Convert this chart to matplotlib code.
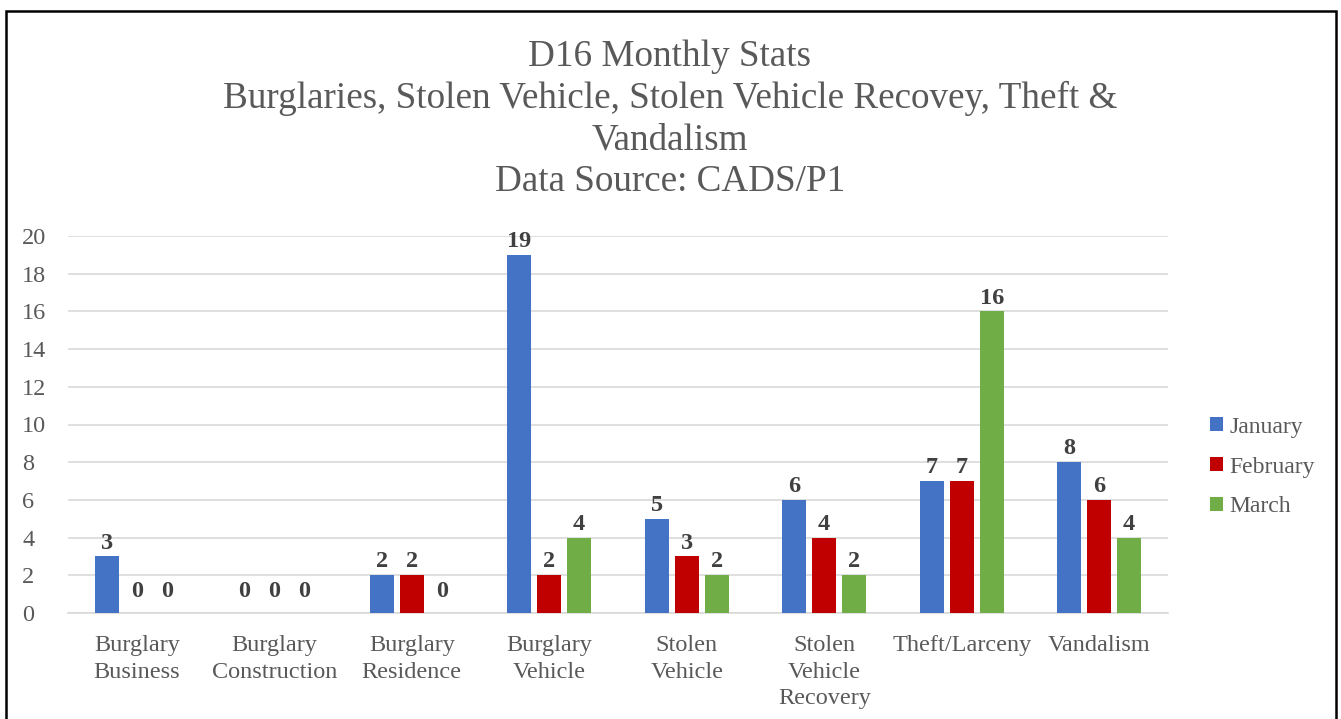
import matplotlib.pyplot as plt
import numpy as np
from matplotlib.patches import Rectangle

categories = ["Burglary\nBusiness", "Burglary\nConstruction", "Burglary\nResidence",
              "Burglary\nVehicle", "Stolen\nVehicle", "Stolen\nVehicle\nRecovery",
              "Theft/Larceny", "Vandalism"]
january = [3, 0, 2, 19, 5, 6, 7, 8]
february = [0, 0, 2, 2, 3, 4, 7, 6]
march = [0, 0, 0, 4, 2, 2, 16, 4]
series_names = ["January", "February", "March"]
colors = ["#4472C4", "#C00000", "#70AD47"]
title_lines = "D16 Monthly Stats\nBurglaries, Stolen Vehicle, Stolen Vehicle Recovey, Theft &\nVandalism\nData Source: CADS/P1"

W, H = 1341, 719
plt.rcParams['font.family'] = ['Liberation Serif', 'DejaVu Serif']
text_color = "#595959"

fig = plt.figure(figsize=(W / 100, H / 100), dpi=100)
fig.patches.append(Rectangle((6 / W, -0.01), 1330 / W, (H - 11) / H + 0.01,
                             transform=fig.transFigure, fill=False,
                             edgecolor="black", linewidth=1.8))

ax = fig.add_axes([68 / W, (H - 613) / H, 1100 / W, 377 / H])

x = np.arange(len(categories))
width = 0.175
offsets = [-0.218, 0, 0.218]
for vals, name, col, off in zip([january, february, march], series_names, colors, offsets):
    bars = ax.bar(x + off, vals, width, color=col, label=name, zorder=3)
    for b, v in zip(bars, vals):
        pad = 0.6 if v == 0 else 0.15
        ax.text(b.get_x() + b.get_width() / 2, v + pad, str(v), ha="center", va="bottom",
                fontsize=17.5, fontweight="bold", color="#404040")

ax.set_xlim(-0.5, len(categories) - 0.5)
ax.set_ylim(0, 20)
ax.set_yticks(range(0, 21, 2))
ax.yaxis.grid(True, color="#D9D9D9", linewidth=1.2, zorder=0)
ax.set_axisbelow(True)
for s in ["top", "right", "left"]:
    ax.spines[s].set_visible(False)
ax.spines["bottom"].set_color("#D9D9D9")
ax.spines["bottom"].set_linewidth(1.2)
ax.tick_params(axis="both", length=0, labelsize=17.5, colors=text_color)
ax.tick_params(axis="y", pad=33)
ax.set_xticks(x)
ax.set_xticklabels(categories, va="top", linespacing=1.35)
ax.tick_params(axis="x", pad=16)
for lbl in ax.get_yticklabels():
    lbl.set_horizontalalignment("left")

fig.text(670 / W, 1 - 40 / H, title_lines, ha="center", va="top", fontsize=26.7,
         color=text_color, linespacing=1.25)

leg = ax.legend(loc="center left", bbox_to_anchor=(1189 / W, (H - 467) / H),
                bbox_transform=fig.transFigure, frameon=False, fontsize=17,
                handlelength=0.55, handleheight=0.55, handletextpad=0.25, labelspacing=0.8)
for t in leg.get_texts():
    t.set_color(text_color)

fig.savefig("out.png", dpi=100)
